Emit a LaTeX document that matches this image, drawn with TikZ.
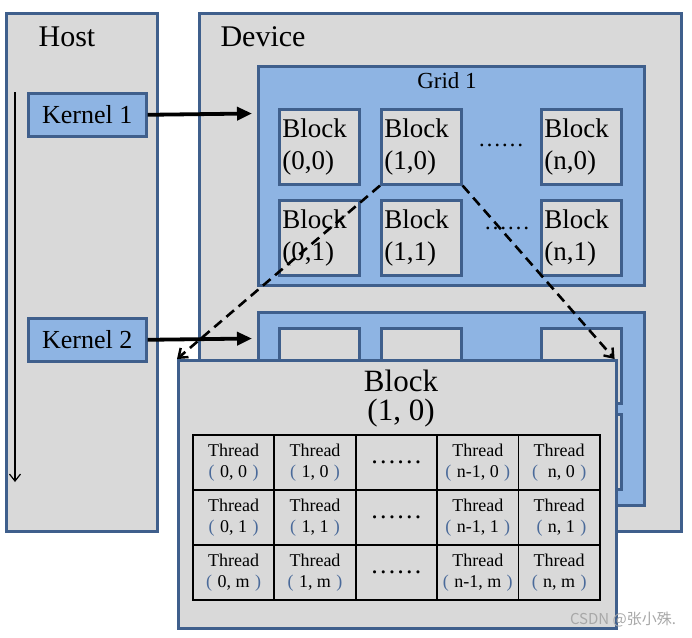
\documentclass[tikz,border=0pt]{standalone}
\usepackage{fontspec}
\setmainfont{Liberation Serif}
\newfontfamily\cjk{Noto Sans CJK SC}
\usetikzlibrary{arrows.meta}
\definecolor{bord}{HTML}{3F5F8C}
\definecolor{panel}{HTML}{D9D9D9}
\definecolor{gblue}{HTML}{8EB4E3}
\definecolor{paren}{HTML}{4A6A9A}
\definecolor{wm}{HTML}{A8A8A8}
\newcommand{\lp}{{\color{paren}(}\hspace{0.3em}}
\newcommand{\rp}{\hspace{0.3em}{\color{paren})}}
\tikzset{
  panelbox/.style={draw=bord, line width=2.6pt, fill=panel, anchor=north west, inner sep=0pt},
  bluebox/.style={draw=bord, line width=2.6pt, fill=gblue, anchor=north west, inner sep=0pt},
  blockbox/.style={panelbox, minimum width=80pt, minimum height=75pt, align=left, text width=74pt,
     inner sep=3pt, font=\fontsize{27}{32}\selectfont},
  kernelbox/.style={bluebox, minimum width=118pt, minimum height=43pt, font=\fontsize{26}{30}\selectfont},
  cell/.style={draw=black, line width=1.8pt, fill=panel, anchor=north west, minimum width=81.4pt,
     minimum height=55pt, inner sep=0pt, align=center, font=\fontsize{18}{21}\selectfont},
  title/.style={font=\fontsize{30}{34}\selectfont, inner sep=0pt},
  karrow/.style={line width=3.8pt, -{Triangle[length=15pt,width=13pt]}},
  darrow/.style={line width=2.6pt, dash pattern=on 10pt off 6pt, -{Straight Barb[length=8pt,width=12pt,line width=2.4pt]}},
  tarrow/.style={line width=1.4pt, -{Straight Barb[length=7pt,width=11pt,line width=1.2pt]}},
  dots/.style={inner sep=0pt, font=\fontsize{23}{26}\selectfont}
}
\begin{document}
\begin{tikzpicture}[x=1pt,y=-1pt]
\useasboundingbox (0,0) rectangle (692,637);
\fill[white] (0,0) rectangle (692,637);

% Host
\node[panelbox, minimum width=151pt, minimum height=518pt] (host) at (5,12) {};
\node[title] (hostlbl) at (67,37) {Host};
% Device
\node[panelbox, minimum width=482pt, minimum height=518pt] (device) at (198,12) {};
\node[title] (devlbl) at (263,37) {Device};

% Grid 1
\node[bluebox, minimum width=386pt, minimum height=219pt] (grid1) at (257,65) {};
\node[font=\fontsize{23}{26}\selectfont, inner sep=0pt] (gridlbl) at (447,81) {Grid 1};
\node[blockbox] (b00) at (278,108) {Block\\(0,0)};
\node[blockbox] (b10) at (380,108) {Block\\(1,0)};
\node[blockbox] (bn0) at (540,108) {Block\\(n,0)};
\node[blockbox] (b01) at (278,199) {Block\\(0,1)};
\node[blockbox] (b11) at (380,199) {Block\\(1,1)};
\node[blockbox] (bn1) at (540,199) {Block\\(n,1)};
\node[dots] (gd0) at (501,145) {……};
\node[dots] (gd1) at (507,228) {……};

% Grid 2
\node[bluebox, minimum width=386pt, minimum height=193pt] (grid2) at (257,311) {};
\node[blockbox] (c00) at (278,327) {};
\node[blockbox] (c10) at (380,327) {};
\node[blockbox] (cn0) at (540,327) {};
\node[blockbox] (c01) at (278,413) {};
\node[blockbox] (c11) at (380,413) {};
\node[blockbox] (cn1) at (540,413) {};

% Kernels
\node[kernelbox] (k1) at (27,92) {Kernel 1};
\node[kernelbox] (k2) at (27,317) {Kernel 2};
\coordinate (k1end) at (252,113.5);
\coordinate (k2end) at (252,338.5);
\draw[karrow] (k1.east) -- (k1end);
\draw[karrow] (k2.east) -- (k2end);

% timeline
\coordinate (tl1) at (15,92);
\coordinate (tl2) at (15,482);
\draw[tarrow] (tl1) -- (tl2);

% Big block panel
\node[panelbox, minimum width=438pt, minimum height=268pt] (big) at (177,359) {};
\node[font=\fontsize{31}{33}\selectfont, inner sep=0pt] (bigt1) at (401,381) {Block};
\node[font=\fontsize{31}{33}\selectfont, inner sep=0pt] (bigt2) at (401,413) {(1, 0)};

% Thread table
\node[cell] (t00) at (192,434) {Thread\\\lp0, 0\rp};
\node[cell] (t10) at (273.4,434) {Thread\\\lp1, 0\rp};
\node[cell] (td0) at (354.8,434) {};
\node[cell] (tm0) at (436.2,434) {Thread\\\lp n-1, 0\rp};
\node[cell] (tn0) at (517.6,434) {Thread\\\lp\ n, 0\rp};
\node[cell] (t01) at (192,489) {Thread\\\lp0, 1\rp};
\node[cell] (t11) at (273.4,489) {Thread\\\lp1, 1\rp};
\node[cell] (td1) at (354.8,489) {};
\node[cell] (tm1) at (436.2,489) {Thread\\\lp n-1, 1\rp};
\node[cell] (tn1) at (517.6,489) {Thread\\\ \lp n, 1\rp};
\node[cell] (t0m) at (192,544) {Thread\\\lp0, m\rp};
\node[cell] (t1m) at (273.4,544) {Thread\\\lp1, m\rp};
\node[cell] (tdm) at (354.8,544) {};
\node[cell] (tmm) at (436.2,544) {Thread\\\lp n-1, m\rp};
\node[cell] (tnm) at (517.6,544) {Thread\\\lp n, m\rp};
\node[dots, font=\fontsize{26}{28}\selectfont] at (td0.center) {……};
\node[dots, font=\fontsize{26}{28}\selectfont] at (td1.center) {……};
\node[dots, font=\fontsize{26}{28}\selectfont] at (tdm.center) {……};

% dashed arrows
\draw[darrow] (b10.south west) -- (big.north west);
\draw[darrow] (b10.south east) -- ([xshift=-3pt]big.north east);

% watermark
\node[font=\cjk\fontsize{15}{17}\selectfont, text=wm, inner sep=0pt] (wmk) at (623,620) {CSDN @张小殊.};
\end{tikzpicture}
\end{document}
